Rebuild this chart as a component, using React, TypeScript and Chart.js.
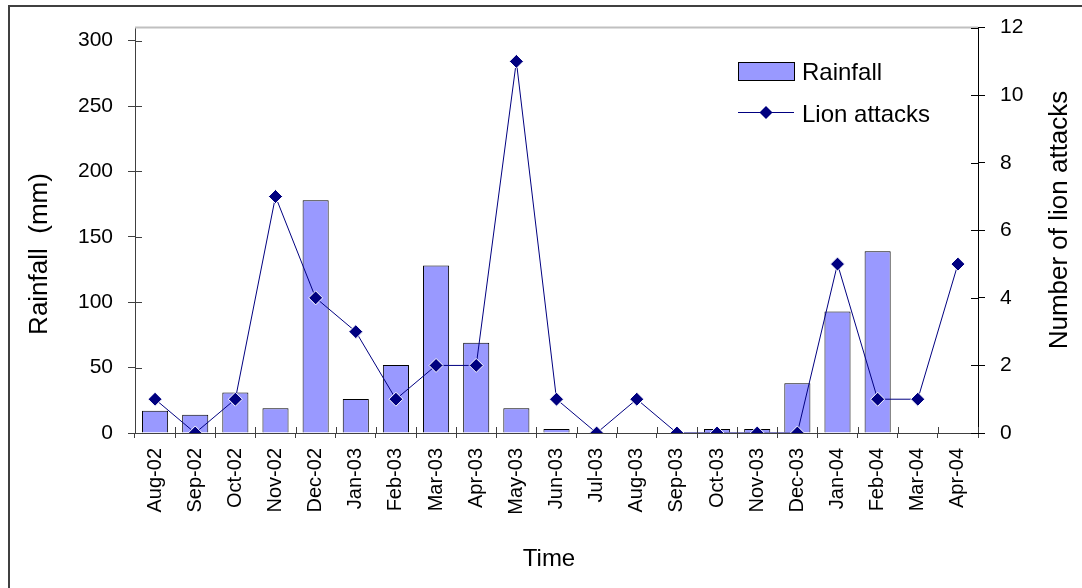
import React, { useEffect, useRef } from "react";
import { Chart, registerables } from "chart.js";

Chart.register(...registerables);

const categories = [
  "Aug-02", "Sep-02", "Oct-02", "Nov-02", "Dec-02", "Jan-03", "Feb-03",
  "Mar-03", "Apr-03", "May-03", "Jun-03", "Jul-03", "Aug-03", "Sep-03",
  "Oct-03", "Nov-03", "Dec-03", "Jan-04", "Feb-04", "Mar-04", "Apr-04",
];
const rainfall = [17, 14, 31, 19, 178, 26, 52, 128, 69, 19, 3, 0, 0, 0, 3, 3, 38, 93, 139, 0, 0];
const lionAttacks = [1, 0, 1, 7, 4, 3, 1, 2, 2, 11, 1, 0, 1, 0, 0, 0, 0, 5, 1, 1, 5];

const leftAxisMax = 310;
const leftAxisStep = 50;
const rightAxisMax = 12;
const rightAxisStep = 2;

const leftTitle = "Rainfall  (mm)";
const rightTitle = "Number of lion attacks";
const bottomTitle = "Time";

const FONT = '"Liberation Sans", Arial, Helvetica, sans-serif';
const BAR_FILL = "#9999ff";
const LINE_COLOR = "#000080";
const AXIS_COLOR = "#404040";

const decorPlugin = {
  id: "decor",
  afterDraw(chart: any) {
    const ctx = chart.ctx;
    const area = chart.chartArea;
    ctx.save();

    // outer frame (cropped on right and bottom)
    ctx.strokeStyle = "#404040";
    ctx.lineWidth = 2;
    ctx.beginPath();
    ctx.moveTo(9, 600);
    ctx.lineTo(9, 6);
    ctx.lineTo(1090, 6);
    ctx.stroke();

    // top border of plot area
    ctx.strokeStyle = "#c0c0c0";
    ctx.lineWidth = 2;
    ctx.beginPath();
    ctx.moveTo(area.left, area.top);
    ctx.lineTo(area.right, area.top);
    ctx.stroke();

    // inner halves of tick marks (ticks cross the axes)
    ctx.lineWidth = 1;
    const ys = chart.scales.y;
    ctx.strokeStyle = AXIS_COLOR;
    ys.ticks.forEach((_t: any, i: number) => {
      const p = Math.round(ys.getPixelForTick(i)) + 0.5;
      ctx.beginPath();
      ctx.moveTo(area.left, p);
      ctx.lineTo(area.left + 7, p);
      ctx.stroke();
    });
    const y1 = chart.scales.y1;
    ctx.strokeStyle = "#000000";
    y1.ticks.forEach((_t: any, i: number) => {
      const p = Math.round(y1.getPixelForTick(i)) + 0.5;
      ctx.beginPath();
      ctx.moveTo(area.right - 7, p);
      ctx.lineTo(area.right, p);
      ctx.stroke();
    });
    const xs = chart.scales.x;
    ctx.strokeStyle = AXIS_COLOR;
    const n = xs.ticks.length;
    for (let i = 0; i <= n; i++) {
      const p = Math.round(xs.left + (i * (xs.right - xs.left)) / n) + 0.5;
      ctx.beginPath();
      ctx.moveTo(p, area.bottom);
      ctx.lineTo(p, area.bottom - 6);
      ctx.stroke();
    }

    // axis titles
    ctx.fillStyle = "#000000";
    ctx.textAlign = "center";
    ctx.textBaseline = "alphabetic";
    ctx.font = `26px ${FONT}`;
    ctx.save();
    ctx.translate(47, 254);
    ctx.rotate(-Math.PI / 2);
    ctx.fillText(leftTitle, 0, 0);
    ctx.restore();

    ctx.save();
    ctx.translate(1067, 220);
    ctx.rotate(-Math.PI / 2);
    ctx.fillText(rightTitle, 0, 0);
    ctx.restore();

    ctx.font = `24px ${FONT}`;
    ctx.fillText(bottomTitle, 549, 566);

    // legend
    const ds = chart.data.datasets;
    ctx.textAlign = "left";
    ctx.font = `24px ${FONT}`;
    // bar swatch
    ctx.fillStyle = ds[0].backgroundColor;
    ctx.fillRect(738, 62, 56, 18);
    ctx.strokeStyle = "#000000";
    ctx.lineWidth = 1;
    ctx.strokeRect(738.5, 62.5, 56, 18);
    ctx.fillStyle = "#000000";
    ctx.fillText(ds[0].label, 802, 80);
    // line swatch
    ctx.strokeStyle = ds[1].borderColor;
    ctx.lineWidth = 1;
    ctx.beginPath();
    ctx.moveTo(738, 112.5);
    ctx.lineTo(794, 112.5);
    ctx.stroke();
    ctx.fillStyle = ds[1].pointBackgroundColor;
    ctx.beginPath();
    ctx.moveTo(766, 106);
    ctx.lineTo(772.5, 112.5);
    ctx.lineTo(766, 119);
    ctx.lineTo(759.5, 112.5);
    ctx.closePath();
    ctx.fill();
    ctx.fillStyle = "#000000";
    ctx.fillText(ds[1].label, 802, 121.5);

    ctx.restore();
  },
};

export default function App() {
  const canvasRef = useRef<HTMLCanvasElement | null>(null);

  useEffect(() => {
    const canvas = canvasRef.current;
    if (!canvas) return;
    const chart = new Chart(canvas, {
      type: "bar",
      data: {
        labels: categories,
        datasets: [
          {
            type: "bar",
            label: "Rainfall",
            data: rainfall,
            backgroundColor: BAR_FILL,
            borderColor: "#000000",
            borderWidth: 1,
            barPercentage: 0.65,
            categoryPercentage: 1,
            yAxisID: "y",
            order: 2,
          } as any,
          {
            type: "line",
            label: "Lion attacks",
            data: lionAttacks,
            borderColor: LINE_COLOR,
            borderWidth: 1,
            pointStyle: "rectRot",
            pointRadius: 7,
            pointBackgroundColor: LINE_COLOR,
            pointBorderColor: "#ffffff",
            pointBorderWidth: 1,
            tension: 0,
            yAxisID: "y1",
            order: 1,
          } as any,
        ],
      },
      options: {
        responsive: false,
        animation: false,
        devicePixelRatio: 1,
        layout: { padding: { left: 0, top: 24, right: 0, bottom: 0 } },
        plugins: {
          legend: { display: false },
          tooltip: { enabled: false },
          title: { display: false },
        },
        scales: {
          x: {
            type: "category",
            offset: true,
            grid: {
              offset: true,
              drawOnChartArea: false,
              drawTicks: true,
              tickLength: 5,
              color: AXIS_COLOR,
            },
            border: { color: AXIS_COLOR, width: 1 },
            ticks: {
              minRotation: 90,
              maxRotation: 90,
              autoSkip: false,
              padding: 10,
              color: "#000000",
              font: { family: FONT, size: 20 },
            },
            afterFit: (scale: any) => {
              scale.height = 155;
            },
          },
          y: {
            type: "linear",
            position: "left",
            min: 0,
            max: leftAxisMax,
            grid: {
              drawOnChartArea: false,
              drawTicks: true,
              tickLength: 7,
              color: AXIS_COLOR,
            },
            border: { color: AXIS_COLOR, width: 1 },
            ticks: {
              stepSize: leftAxisStep,
              includeBounds: false,
              padding: 15,
              color: "#000000",
              font: { family: FONT, size: 21 },
            },
            afterFit: (scale: any) => {
              scale.width = 135;
            },
          },
          y1: {
            type: "linear",
            position: "right",
            min: 0,
            max: rightAxisMax,
            grid: {
              drawOnChartArea: false,
              drawTicks: true,
              tickLength: 7,
              color: "#000000",
            },
            border: { color: "#000000", width: 1 },
            ticks: {
              stepSize: rightAxisStep,
              padding: 15,
              color: "#000000",
              font: { family: FONT, size: 21 },
            },
            afterFit: (scale: any) => {
              scale.width = 104;
            },
          },
        },
      } as any,
      plugins: [decorPlugin],
    });
    return () => chart.destroy();
  }, []);

  return (
    <div style={{ position: "absolute", left: 0, top: 0, width: 1082, height: 588, background: "#ffffff" }}>
      <canvas ref={canvasRef} width={1082} height={588} style={{ display: "block", width: 1082, height: 588 }} />
    </div>
  );
}
